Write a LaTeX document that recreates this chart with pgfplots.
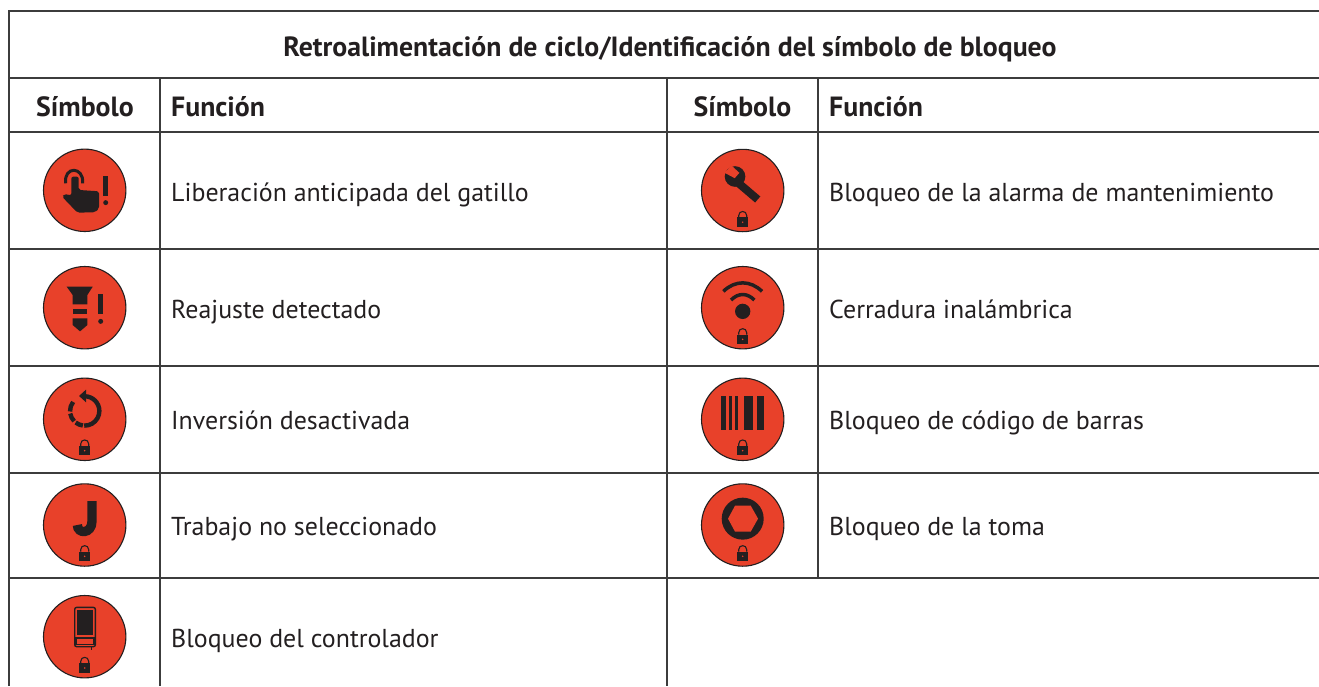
\documentclass[border=0pt]{standalone}
\usepackage{pgfplots}
\pgfplotsset{compat=1.18}
\usepackage{fontspec}
\setmainfont{PT Sans}
\definecolor{iconred}{HTML}{E8412A}
\definecolor{ink}{HTML}{231F20}
\definecolor{rule}{HTML}{3C3C3C}
\newcommand{\seg}[4]{\addplot[rule,line width=2pt,no markers,sharp plot] coordinates {(#1,#2)(#3,#4)};}
\newcommand{\cell}[3]{\node[anchor=base west,inner sep=0pt,text=ink] at (axis cs:#1,#2) {\fontsize{25.9}{30}\selectfont #3};}
\newcommand{\head}[3]{\node[anchor=base,inner sep=0pt,text=ink] at (axis cs:#1,#2) {\fontsize{27.8}{30}\selectfont\bfseries #3};}
% glyph: named disc centre, crop-frame origin, body in crop units (1/3 px, y down)
\newcommand{\glyph}[4]{\begin{scope}[shift={(#1)},x=0.33333pt,y=-0.33333pt,shift={(-#2,-#3)}]#4\end{scope}}
\newcommand{\lock}[2]{% cx, top of body
  \draw[ink,line width=1.1pt] (#1-12,#2) -- (#1-12,#2-6) .. controls (#1-12,#2-22) and (#1+12,#2-22) .. (#1+12,#2-6) -- (#1+12,#2);
  \fill[ink] (#1-17,#2) rectangle (#1+17,#2+28);
  \fill[iconred] (#1,#2+14) circle[radius=2.6];
}
\begin{document}
\begin{tikzpicture}
\useasboundingbox (0,0) rectangle (1319pt,686pt);
\begin{axis}[hide axis,scale only axis,width=1319pt,height=686pt,
  xmin=0,xmax=1319,ymin=0,ymax=686,y dir=reverse,clip=true]
% table rules
\seg{9}{11}{1319}{11}
\seg{9}{78}{1319}{78}
\seg{9}{131.5}{1319}{131.5}
\seg{9}{248.8}{1319}{248.8}
\seg{9}{366}{1319}{366}
\seg{9}{472.6}{1319}{472.6}
\seg{9}{577.7}{1319}{577.7}
\seg{9}{10}{9}{686}
\seg{160.3}{78}{160.3}{686}
\seg{667}{78}{667}{686}
\seg{818.3}{78}{818.3}{577.7}
% icon discs
\addplot[only marks,mark=*,mark size=41.2pt,mark options={fill=iconred,draw=ink,line width=1.1pt}]
 coordinates {(84.7,190.3)(84.7,307.7)(84.7,419.3)(84.7,525)(84.7,636.7)
              (742.7,190.5)(742.7,307.7)(742.7,419.3)(742.7,525)};
\coordinate (a1) at (axis cs:84.7,190.3);
\coordinate (a2) at (axis cs:84.7,307.7);
\coordinate (a3) at (axis cs:84.7,419.3);
\coordinate (a4) at (axis cs:84.7,525);
\coordinate (a5) at (axis cs:84.7,636.7);
\coordinate (b1) at (axis cs:742.7,190.5);
\coordinate (b2) at (axis cs:742.7,307.7);
\coordinate (b3) at (axis cs:742.7,419.3);
\coordinate (b4) at (axis cs:742.7,525);
% text
\node[anchor=base,inner sep=0pt,text=ink] at (axis cs:670,56) {\fontsize{27.8}{30}\selectfont\bfseries Retroalimentación de ciclo/Identificación del símbolo de bloqueo};
\head{85}{116}{Símbolo}
\head{742.5}{116}{Símbolo}
\node[anchor=base west,inner sep=0pt,text=ink] at (axis cs:171,116) {\fontsize{27.8}{30}\selectfont\bfseries Función};
\node[anchor=base west,inner sep=0pt,text=ink] at (axis cs:829,116) {\fontsize{27.8}{30}\selectfont\bfseries Función};
\cell{171}{201}{Liberación anticipada del gatillo}
\cell{171}{318}{Reajuste detectado}
\cell{171}{429}{Inversión desactivada}
\cell{171}{535}{Trabajo no seleccionado}
\cell{171}{647}{Bloqueo del controlador}
\cell{829}{201}{Bloqueo de la alarma de mantenimiento}
\cell{829}{318}{Cerradura inalámbrica}
\cell{829}{429}{Bloqueo de código de barras}
\cell{829}{535}{Bloqueo de la toma}
\end{axis}
% hand
\glyph{a1}{254}{181}{
  \draw[ink,line width=3pt] (197,160) .. controls (190,108) and (252,108) .. (248,160);
  \fill[ink,rounded corners=2pt] (214,140) -- (236,140) -- (236,180) -- (297,184) -- (297,236) -- (285,247) -- (232,248) -- (186,200) -- (192,192) -- (214,196) -- cycle;
  \fill[ink] (310,138) rectangle (324,198);
  \fill[ink] (317,218) circle[radius=7.5];
}
% screw
\glyph{a2}{254}{533}{
  \fill[ink] (200,470) -- (278,470) -- (262,495) -- (262,523) -- (218,523) -- (218,495) -- cycle;
  \fill[ink] (218,537) rectangle (262,552);
  \fill[ink] (218,565) -- (262,565) -- (262,585) -- (240,604) -- (218,585) -- cycle;
  \fill[ink] (295,492) rectangle (309,552);
  \fill[ink] (302,574) circle[radius=7.5];
}
% reverse
\glyph{a3}{254}{160}{
  \draw[ink,line width=4.4pt] (254,135) ++(-90:44) arc[start angle=-90,end angle=92,radius=44];
  \draw[ink,line width=4.4pt] (254,135) ++(97:44) arc[start angle=97,end angle=128,radius=44];
  \draw[ink,line width=4.4pt] (254,135) ++(136:44) arc[start angle=136,end angle=170,radius=44];
  \draw[ink,line width=4.4pt] (254,135) ++(178:44) arc[start angle=178,end angle=218,radius=44];
  \fill[ink] (237,90) -- (258,71) -- (258,109) -- cycle;
  \lock{254}{240}
}
% J
\glyph{a4}{254}{477}{
  \draw[ink,line width=9.3pt] (276,405) -- (276,465) .. controls (276,505) and (232,505) .. (232,477);
  \lock{254}{557}
}
% device
\glyph{a5}{254}{812}{
  \draw[ink,line width=1.4pt,rounded corners=2pt] (224,724) rectangle (286,842);
  \fill[ink] (231,732) rectangle (279,808);
  \draw[ink,line width=1.1pt] (228,816) rectangle (282,836);
  \draw[ink,line width=0.8pt] (275,842) -- (275,852);
  \lock{254}{892}
}
% wrench
\glyph{b1}{248}{181}{
  \draw[ink,line width=8pt] (225,150) -- (293,208);
  \fill[ink] (225,139) circle[radius=31];
  \fill[iconred] (194,128) -- (214,106) -- (238,128) -- (224,144) -- cycle;
  \lock{248}{262}
}
% wireless
\glyph{b2}{248}{533}{
  \draw[ink,line width=3.5pt] (190,484) .. controls (225,450) and (271,450) .. (306,484);
  \draw[ink,line width=3.5pt] (213,510) .. controls (235,488) and (261,488) .. (283,510);
  \fill[ink] (248,544) circle[radius=23];
  \lock{248}{614}
}
% barcode
\glyph{b3}{248}{160}{
  \fill[ink] (183,90) rectangle (198,191);
  \fill[ink] (207,90) rectangle (215,191);
  \fill[ink] (225,90) rectangle (234,191);
  \fill[ink] (253,90) rectangle (280,191);
  \fill[ink] (290,90) rectangle (313,191);
  \lock{248}{240}
}
% socket
\glyph{b4}{248}{477}{
  \fill[ink] (248,458) circle[radius=63];
  \fill[iconred] (204,458) -- (225,419) -- (272,419) -- (294,458) -- (272,497) -- (225,497) -- cycle;
  \lock{248}{557}
}
\end{tikzpicture}
\end{document}
